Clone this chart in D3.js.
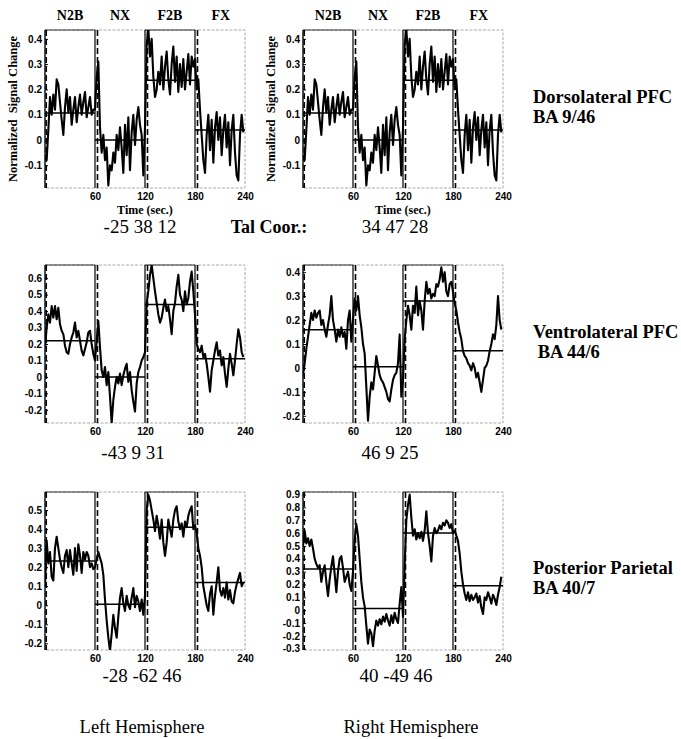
<!doctype html>
<html>
<head>
<meta charset="utf-8">
<script src="https://cdnjs.cloudflare.com/ajax/libs/d3/7.8.5/d3.min.js"></script>
<style>
  body { margin: 0; background: #fff; }
  svg { display: block; }
  .tick text { font-family: "Liberation Sans", Arial, sans-serif; font-weight: bold; font-size: 10px; fill: #000; }
  .serif { font-family: "Liberation Serif", "Times New Roman", serif; fill: #000; }
</style>
</head>
<body>
<svg width="681" height="739"></svg>
<script>
var epochNames = ["N2B", "NX", "F2B", "FX"];
var epochBounds = [0, 60, 120, 180, 240];
var xTicks = [60, 120, 180, 240];
var sampleStep = 2; // seconds between samples, t = 0 .. 238

// normalized signal change (one row per epoch)
var dlpfcLeft = [
  -0.06, -0.08, 0.04, 0.17, 0.10, 0.18, 0.12, 0.24, 0.22, 0.15, 0.08, 0.02, 0.13, 0.20, 0.11, 0.17, 0.06, 0.12, 0.17, 0.07, 0.13, 0.18, 0.10, 0.15, 0.19, 0.09, 0.13, 0.17, 0.10, 0.12,
  0.12, 0.25, 0.31, 0.05, -0.05, 0.02, -0.08, -0.03, -0.18, -0.10, -0.12, -0.05, -0.09, 0.02, -0.04, 0.05, -0.03, -0.13, 0.06, -0.06, 0.09, -0.12, 0.03, 0.10, -0.02, 0.08, 0.13, 0.06, 0.02, -0.14,
  0.05, 0.38, 0.44, 0.33, 0.40, 0.25, 0.17, 0.20, 0.27, 0.22, 0.33, 0.20, 0.29, 0.35, 0.24, 0.18, 0.30, 0.37, 0.23, 0.33, 0.19, 0.30, 0.21, 0.32, 0.20, 0.27, 0.34, 0.22, 0.33, 0.29,
  0.32, 0.20, 0.24, 0.12, 0.02, -0.08, -0.13, 0.02, 0.10, -0.04, 0.08, -0.09, 0.05, 0.11, 0.00, 0.09, -0.06, 0.04, 0.10, -0.03, 0.07, -0.10, 0.04, 0.10, -0.05, -0.14, -0.16, 0.02, 0.10, 0.03
];
var dlpfcRight = [
  -0.06, -0.08, 0.04, 0.17, 0.10, 0.18, 0.12, 0.24, 0.22, 0.15, 0.08, 0.02, 0.13, 0.20, 0.11, 0.17, 0.06, 0.12, 0.17, 0.07, 0.13, 0.18, 0.10, 0.15, 0.19, 0.09, 0.13, 0.17, 0.10, 0.12,
  0.12, 0.25, 0.31, 0.05, -0.05, 0.02, -0.08, -0.03, -0.18, -0.10, -0.12, -0.05, -0.09, 0.02, -0.04, 0.05, -0.03, -0.13, 0.06, -0.06, 0.09, -0.12, 0.03, 0.10, -0.02, 0.08, 0.13, 0.06, 0.02, -0.14,
  0.05, 0.38, 0.44, 0.33, 0.40, 0.25, 0.17, 0.20, 0.27, 0.22, 0.33, 0.20, 0.29, 0.35, 0.24, 0.18, 0.30, 0.37, 0.23, 0.33, 0.19, 0.30, 0.21, 0.32, 0.20, 0.27, 0.34, 0.22, 0.33, 0.29,
  0.32, 0.20, 0.24, 0.12, 0.02, -0.08, -0.13, 0.02, 0.10, -0.04, 0.08, -0.09, 0.05, 0.11, 0.00, 0.09, -0.06, 0.04, 0.10, -0.03, 0.07, -0.10, 0.04, 0.10, -0.05, -0.14, -0.16, 0.02, 0.10, 0.03
];
var vlpfcLeft = [
  0.18, 0.30, 0.38, 0.33, 0.43, 0.36, 0.43, 0.35, 0.42, 0.32, 0.28, 0.26, 0.19, 0.15, 0.14, 0.20, 0.24, 0.27, 0.33, 0.24, 0.28, 0.22, 0.16, 0.13, 0.17, 0.21, 0.27, 0.28, 0.20, 0.14,
  0.10, 0.22, 0.34, 0.18, 0.04, 0.00, 0.06, -0.05, 0.03, -0.12, -0.28, -0.14, -0.06, 0.00, -0.04, 0.02, -0.05, 0.01, 0.05, 0.08, -0.03, 0.03, -0.08, -0.15, -0.21, -0.04, 0.03, 0.06, 0.10, 0.12,
  0.15, 0.45, 0.52, 0.62, 0.68, 0.60, 0.52, 0.45, 0.38, 0.33, 0.36, 0.42, 0.47, 0.40, 0.43, 0.35, 0.26, 0.40, 0.45, 0.55, 0.62, 0.50, 0.47, 0.40, 0.52, 0.44, 0.48, 0.58, 0.64, 0.52,
  0.38, 0.20, 0.17, 0.15, 0.19, 0.12, 0.14, 0.08, 0.00, -0.09, 0.04, 0.10, 0.16, 0.21, 0.13, 0.16, 0.07, 0.12, 0.02, -0.06, 0.05, 0.14, 0.08, 0.01, 0.10, 0.20, 0.29, 0.24, 0.15, 0.12
];
var vlpfcRight = [
  -0.03, 0.02, 0.08, 0.13, 0.18, 0.23, 0.20, 0.24, 0.21, 0.23, 0.24, 0.18, 0.20, 0.16, 0.13, 0.18, 0.22, 0.30, 0.20, 0.16, 0.11, 0.16, 0.13, 0.17, 0.13, 0.15, 0.08, 0.20, 0.24, 0.11,
  0.20, 0.29, 0.24, 0.30, 0.22, 0.17, 0.10, 0.06, -0.08, -0.22, -0.12, -0.06, -0.09, -0.02, 0.05, 0.01, -0.03, -0.05, -0.06, -0.08, -0.10, -0.13, -0.14, -0.09, -0.05, -0.03, -0.02, 0.02, 0.14, -0.12,
  -0.05, 0.12, 0.20, 0.26, 0.22, 0.16, 0.26, 0.23, 0.34, 0.22, 0.28, 0.24, 0.16, 0.28, 0.36, 0.31, 0.33, 0.29, 0.31, 0.30, 0.35, 0.34, 0.37, 0.42, 0.36, 0.40, 0.32, 0.30, 0.35, 0.36,
  0.32, 0.27, 0.24, 0.19, 0.15, 0.12, 0.07, 0.05, 0.04, 0.02, 0.01, -0.01, 0.02, 0.00, -0.04, -0.02, -0.06, -0.10, -0.05, 0.00, 0.01, 0.03, 0.07, 0.10, 0.14, 0.12, 0.18, 0.30, 0.20, 0.16
];
var parietalLeft = [
  0.10, 0.34, 0.22, 0.28, 0.15, 0.13, 0.30, 0.36, 0.30, 0.24, 0.20, 0.17, 0.26, 0.29, 0.20, 0.29, 0.22, 0.16, 0.30, 0.18, 0.32, 0.26, 0.17, 0.28, 0.24, 0.28, 0.26, 0.20, 0.22, 0.19,
  0.20, 0.24, 0.28, 0.25, 0.22, 0.16, 0.03, -0.08, -0.17, -0.24, -0.15, -0.05, -0.12, -0.17, -0.06, 0.04, 0.09, 0.01, -0.03, 0.05, 0.00, -0.02, 0.04, 0.09, -0.01, 0.05, 0.02, -0.03, 0.03, -0.05,
  0.05, 0.50, 0.58, 0.55, 0.50, 0.45, 0.39, 0.47, 0.42, 0.35, 0.45, 0.33, 0.26, 0.33, 0.45, 0.40, 0.36, 0.45, 0.50, 0.52, 0.44, 0.40, 0.43, 0.36, 0.44, 0.41, 0.47, 0.50, 0.52, 0.40,
  0.42, 0.38, 0.30, 0.26, 0.20, 0.10, 0.05, 0.00, -0.03, 0.06, 0.10, -0.05, 0.05, 0.12, 0.20, 0.08, 0.05, 0.09, 0.04, 0.12, 0.03, 0.08, 0.02, 0.01, 0.07, 0.11, 0.14, 0.17, 0.10, 0.12
];
var parietalRight = [
  0.50, 0.62, 0.52, 0.56, 0.50, 0.55, 0.48, 0.40, 0.36, 0.33, 0.35, 0.22, 0.30, 0.35, 0.22, 0.11, 0.24, 0.34, 0.42, 0.28, 0.14, 0.30, 0.40, 0.42, 0.33, 0.22, 0.26, 0.30, 0.20, 0.15,
  0.30, 0.55, 0.67, 0.58, 0.40, 0.22, 0.10, 0.03, -0.12, -0.26, -0.15, -0.18, -0.28, -0.16, -0.08, -0.12, -0.07, -0.11, -0.05, -0.09, -0.03, -0.08, -0.12, -0.04, -0.10, -0.02, -0.07, -0.10, 0.05, 0.18,
  -0.05, 0.35, 0.70, 0.82, 0.90, 0.72, 0.58, 0.63, 0.55, 0.60, 0.56, 0.61, 0.54, 0.62, 0.77, 0.60, 0.50, 0.38, 0.58, 0.64, 0.60, 0.62, 0.66, 0.63, 0.68, 0.66, 0.70, 0.68, 0.64, 0.67,
  0.60, 0.62, 0.58, 0.54, 0.44, 0.30, 0.20, 0.13, 0.08, 0.14, 0.07, 0.12, 0.08, 0.10, 0.13, 0.06, 0.11, 0.02, -0.03, 0.10, 0.08, 0.14, 0.10, 0.05, 0.12, 0.09, 0.04, 0.12, 0.18, 0.26
];

// epoch means (horizontal lines)
var dlpfcLeftMeans = [0.107, 0.0, 0.236, 0.039];
var dlpfcRightMeans = [0.107, 0.0, 0.236, 0.039];
var vlpfcLeftMeans = [0.22, 0.0, 0.44, 0.11];
var vlpfcRightMeans = [0.16, 0.005, 0.28, 0.072];
var parietalLeftMeans = [0.233, 0.005, 0.41, 0.12];
var parietalRightMeans = [0.32, 0.013, 0.60, 0.19];

// y tick labels and axis limits
var dlpfcTicks = [-0.1, 0, 0.1, 0.2, 0.3, 0.4];
var vlpfcLeftTicks = [-0.2, -0.1, 0, 0.1, 0.2, 0.3, 0.4, 0.5, 0.6];
var vlpfcRightTicks = [-0.2, -0.1, 0, 0.1, 0.2, 0.3, 0.4];
var parietalLeftTicks = [-0.2, -0.1, 0, 0.1, 0.2, 0.3, 0.4, 0.5];
var parietalRightTicks = [-0.3, -0.2, -0.1, 0, 0.1, 0.2, 0.3, 0.4, 0.5, 0.6, 0.7, 0.8, 0.9];
var dlpfcDomain = [-0.19, 0.435];
var vlpfcLeftDomain = [-0.28, 0.68];
var vlpfcRightDomain = [-0.23, 0.43];
var parietalLeftDomain = [-0.235, 0.595];
var parietalRightDomain = [-0.31, 0.92];

var talCoords = ["-25 38 12", "34 47 28", "-43 9 31", "46 9 25", "-28 -62 46", "40 -49 46"];
var regionNames = [["Dorsolateral PFC", "BA 9/46"], ["Ventrolateral PFC", " BA 44/6"], ["Posterior Parietal", "BA 40/7"]];
var hemisphereNames = ["Left Hemisphere", "Right Hemisphere"];

var panels = [
  {vals: dlpfcLeft, means: dlpfcLeftMeans, ticks: dlpfcTicks, dom: dlpfcDomain},
  {vals: dlpfcRight, means: dlpfcRightMeans, ticks: dlpfcTicks, dom: dlpfcDomain},
  {vals: vlpfcLeft, means: vlpfcLeftMeans, ticks: vlpfcLeftTicks, dom: vlpfcLeftDomain},
  {vals: vlpfcRight, means: vlpfcRightMeans, ticks: vlpfcRightTicks, dom: vlpfcRightDomain},
  {vals: parietalLeft, means: parietalLeftMeans, ticks: parietalLeftTicks, dom: parietalLeftDomain},
  {vals: parietalRight, means: parietalRightMeans, ticks: parietalRightTicks, dom: parietalRightDomain}
];

var svg = d3.select("svg");
var colX = [45, 303], rowTop = [30, 265, 492];
var W = 200, H = 158;
var coordY = [233, 459, 682];
var coordX = [140, 395, 133, 390, 142, 396];

panels.forEach(function(p, k) {
  var col = k % 2, row = Math.floor(k / 2);
  var x = d3.scaleLinear().domain([0, 240]).range([colX[col], colX[col] + W]);
  var y = d3.scaleLinear().domain(p.dom).range([rowTop[row] + H, rowTop[row]]);
  var g = svg.append("g");
  var top = y.range()[1], bot = y.range()[0];

  g.append("clipPath").attr("id", "clip" + k)
    .append("rect").attr("x", x(0)).attr("y", top).attr("width", W).attr("height", H);

  // faint dotted box
  g.append("rect").attr("x", x(0)).attr("y", top).attr("width", W).attr("height", H)
    .attr("fill", "none").attr("stroke", "#aaa").attr("stroke-width", 1).attr("stroke-dasharray", "3,1.5");
  // solid top edges over the 2-back blocks
  [0, 2].forEach(function(e) {
    g.append("line").attr("x1", x(epochBounds[e])).attr("x2", x(epochBounds[e + 1]))
      .attr("y1", top).attr("y2", top).attr("stroke", "#333").attr("stroke-width", 1);
  });
  g.append("line").attr("x1", x(0)).attr("x2", x(0)).attr("y1", top).attr("y2", bot)
    .attr("stroke", "#000").attr("stroke-width", 1.3);

  // block onsets: solid, and dashed shifted by the haemodynamic delay
  [60, 120, 180].forEach(function(t) {
    g.append("line").attr("x1", x(t)).attr("x2", x(t)).attr("y1", top).attr("y2", bot)
      .attr("stroke", "#000").attr("stroke-width", 1.2);
  });
  [1.5, 63, 123, 183].forEach(function(t) {
    g.append("line").attr("x1", x(t)).attr("x2", x(t)).attr("y1", top).attr("y2", bot)
      .attr("stroke", "#000").attr("stroke-width", 1.6).attr("stroke-dasharray", "6,3");
  });

  // epoch means
  p.means.forEach(function(m, e) {
    g.append("line").attr("x1", x(epochBounds[e])).attr("x2", x(epochBounds[e + 1]))
      .attr("y1", y(m)).attr("y2", y(m)).attr("stroke", "#000").attr("stroke-width", 1.5);
  });

  // time course
  var line = d3.line().x(function(d, i) { return x(i * sampleStep); }).y(function(d) { return y(d); });
  g.append("path").datum(p.vals).attr("d", line).attr("clip-path", "url(#clip" + k + ")")
    .attr("fill", "none").attr("stroke", "#000").attr("stroke-width", 2.1).attr("stroke-linejoin", "round");

  // axes
  var ya = g.append("g").attr("transform", "translate(" + x(0) + ",0)")
    .call(d3.axisLeft(y).tickValues(p.ticks).tickSize(-3).tickPadding(3).tickFormat(function(d) { return String(d); }));
  ya.select(".domain").remove();
  var xa = g.append("g").attr("transform", "translate(0," + bot + ")")
    .call(d3.axisBottom(x).tickValues(xTicks).tickSize(0).tickPadding(5));
  xa.select(".domain").remove();

  g.append("text").attr("class", "serif").attr("x", coordX[k]).attr("y", coordY[row])
    .attr("text-anchor", "middle").style("font-size", "19px").text(talCoords[k]);

  if (row === 0) {
    epochNames.forEach(function(n, e) {
      g.append("text").attr("class", "serif").attr("x", x([30, 90, 150, 211][e])).attr("y", 20)
        .attr("text-anchor", "middle").style("font-size", "14px").style("font-weight", "bold").text(n);
    });
    g.append("text").attr("class", "serif").attr("x", x(120)).attr("y", 214)
      .attr("text-anchor", "middle").style("font-size", "12px").style("font-weight", "bold").text("Time (sec.)");
    g.append("text").attr("class", "serif")
      .attr("transform", "translate(" + (x(0) - 28) + "," + (top + H / 2) + ") rotate(-90)")
      .attr("text-anchor", "middle").style("font-size", "12.5px").style("font-weight", "bold")
      .style("white-space", "pre").text("Normalized  Signal Change");
  }
});

svg.append("text").attr("class", "serif").attr("x", 269).attr("y", 233).attr("text-anchor", "middle")
  .style("font-size", "18px").style("font-weight", "bold").text("Tal Coor.:");

var regionY = [103, 338, 574];
regionNames.forEach(function(r, i) {
  r.forEach(function(s, j) {
    svg.append("text").attr("class", "serif").attr("x", 533).attr("y", regionY[i] + j * 20)
      .style("font-size", "18.5px").style("font-weight", "bold").style("white-space", "pre").text(s);
  });
});

hemisphereNames.forEach(function(h, i) {
  svg.append("text").attr("class", "serif").attr("x", [142, 411][i]).attr("y", 733)
    .attr("text-anchor", "middle").style("font-size", "18.5px").text(h);
});
</script>
</body>
</html>
